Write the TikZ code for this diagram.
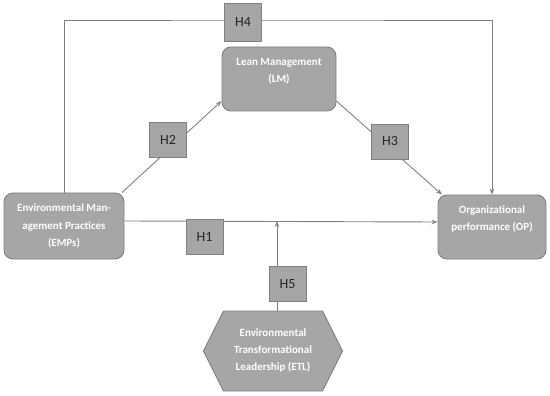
\documentclass[tikz,border=0pt]{standalone}
\usepackage{fontspec}
\setmainfont{Carlito}
\usetikzlibrary{shapes.symbols, arrows.meta, positioning}
\definecolor{boxgray}{RGB}{166,166,166}
\definecolor{edgegray}{RGB}{128,128,128}
\definecolor{linegray}{RGB}{128,128,128}
\tikzset{
    construct/.style = {rectangle, rounded corners=9pt, inner sep=0pt, align=center, draw=edgegray, fill=boxgray, text=white, line width=0.9pt, font=\fontsize{11}{17.5}\selectfont\bfseries},
    moderator/.style = {signal, signal to=west and east, signal pointer angle=127, minimum width=139pt, minimum height=80pt, inner sep=0pt, align=center, draw=edgegray, fill=boxgray, text=white, line width=0.9pt, font=\fontsize{11}{17}\selectfont\bfseries},
    hyp/.style = {rectangle, minimum width=37pt, minimum height=35pt, inner sep=0pt, draw=edgegray, fill=boxgray, text=black!85, line width=0.9pt, font=\fontsize{14}{16}\selectfont},
    link/.style = {line width=0.9pt, draw=linegray},
    arrow/.style = {link, -{Stealth[length=6pt,width=4.5pt]}}
}

\begin{document}
\begin{tikzpicture}[x=1pt, y=-1pt]
\useasboundingbox (0,0) rectangle (550,396);

\node (emp) [construct, minimum width=120pt, minimum height=66pt] at (64,226) {Environmental Man-\\agement Practices\\(EMPs)};
\node (lm) [construct, minimum width=114pt, minimum height=64pt] at (279,79) {Lean Management\\(LM)\\~};
\node (op) [construct, minimum width=108pt, minimum height=64pt] at (492,227) {Organizational\\performance (OP)\\~};
\node (etl) [moderator] at (273,351) {Environmental\\Transformational\\Leadership (ETL)};

\coordinate (top) at (277,20);
\coordinate (mod) at (277,221);

\draw [arrow] (emp.30) -- (lm.201);
\draw [arrow] (lm.-21) -- (op.147);
\draw [arrow] (emp.north) |- (top) -| (op.north);
\draw [arrow] ([yshift=5pt]emp.east) -- ([yshift=5pt]op.west);
\draw [arrow] (etl.north -| mod) -- (mod);

\node (h1) [hyp] at (204.5,236.5) {H1};
\node (h2) [hyp] at (168,140) {H2};
\node (h3) [hyp] at (390,141.5) {H3};
\node (h4) [hyp, minimum height=38pt] at (243,22.5) {H4};
\node (h5) [hyp] at (287.5,284) {H5};
\end{tikzpicture}
\end{document}
